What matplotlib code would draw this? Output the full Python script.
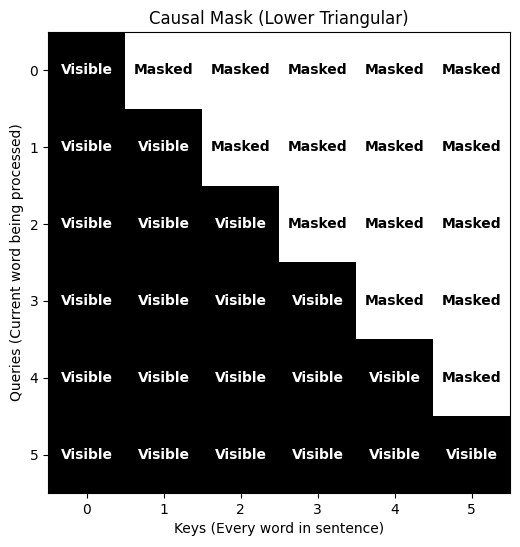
import numpy as np
import matplotlib
matplotlib.use("Agg")
import matplotlib.pyplot as plt

positions = [0, 1, 2, 3, 4, 5]
mask = np.array([
    [1, 0, 0, 0, 0, 0],
    [1, 1, 0, 0, 0, 0],
    [1, 1, 1, 0, 0, 0],
    [1, 1, 1, 1, 0, 0],
    [1, 1, 1, 1, 1, 0],
    [1, 1, 1, 1, 1, 1],
])

fig = plt.figure(figsize=(5.2, 5.47), dpi=100)
ax = fig.add_axes([48/520, 1-493/547, 462/520, 461/547])
ax.imshow(mask, cmap="Greys", vmin=0, vmax=1, aspect="auto")
for i in range(len(positions)):
    for j in range(len(positions)):
        vis = mask[i, j] == 1
        ax.text(j, i, "Visible" if vis else "Masked", ha="center", va="center",
                color="white" if vis else "black", fontweight="bold", fontsize=10)
ax.set_xticks(positions)
ax.set_yticks(positions)
ax.set_title("Causal Mask (Lower Triangular)")
ax.set_xlabel("Keys (Every word in sentence)")
ax.set_ylabel("Queries (Current word being processed)")
fig.savefig("out.png", dpi=100)
